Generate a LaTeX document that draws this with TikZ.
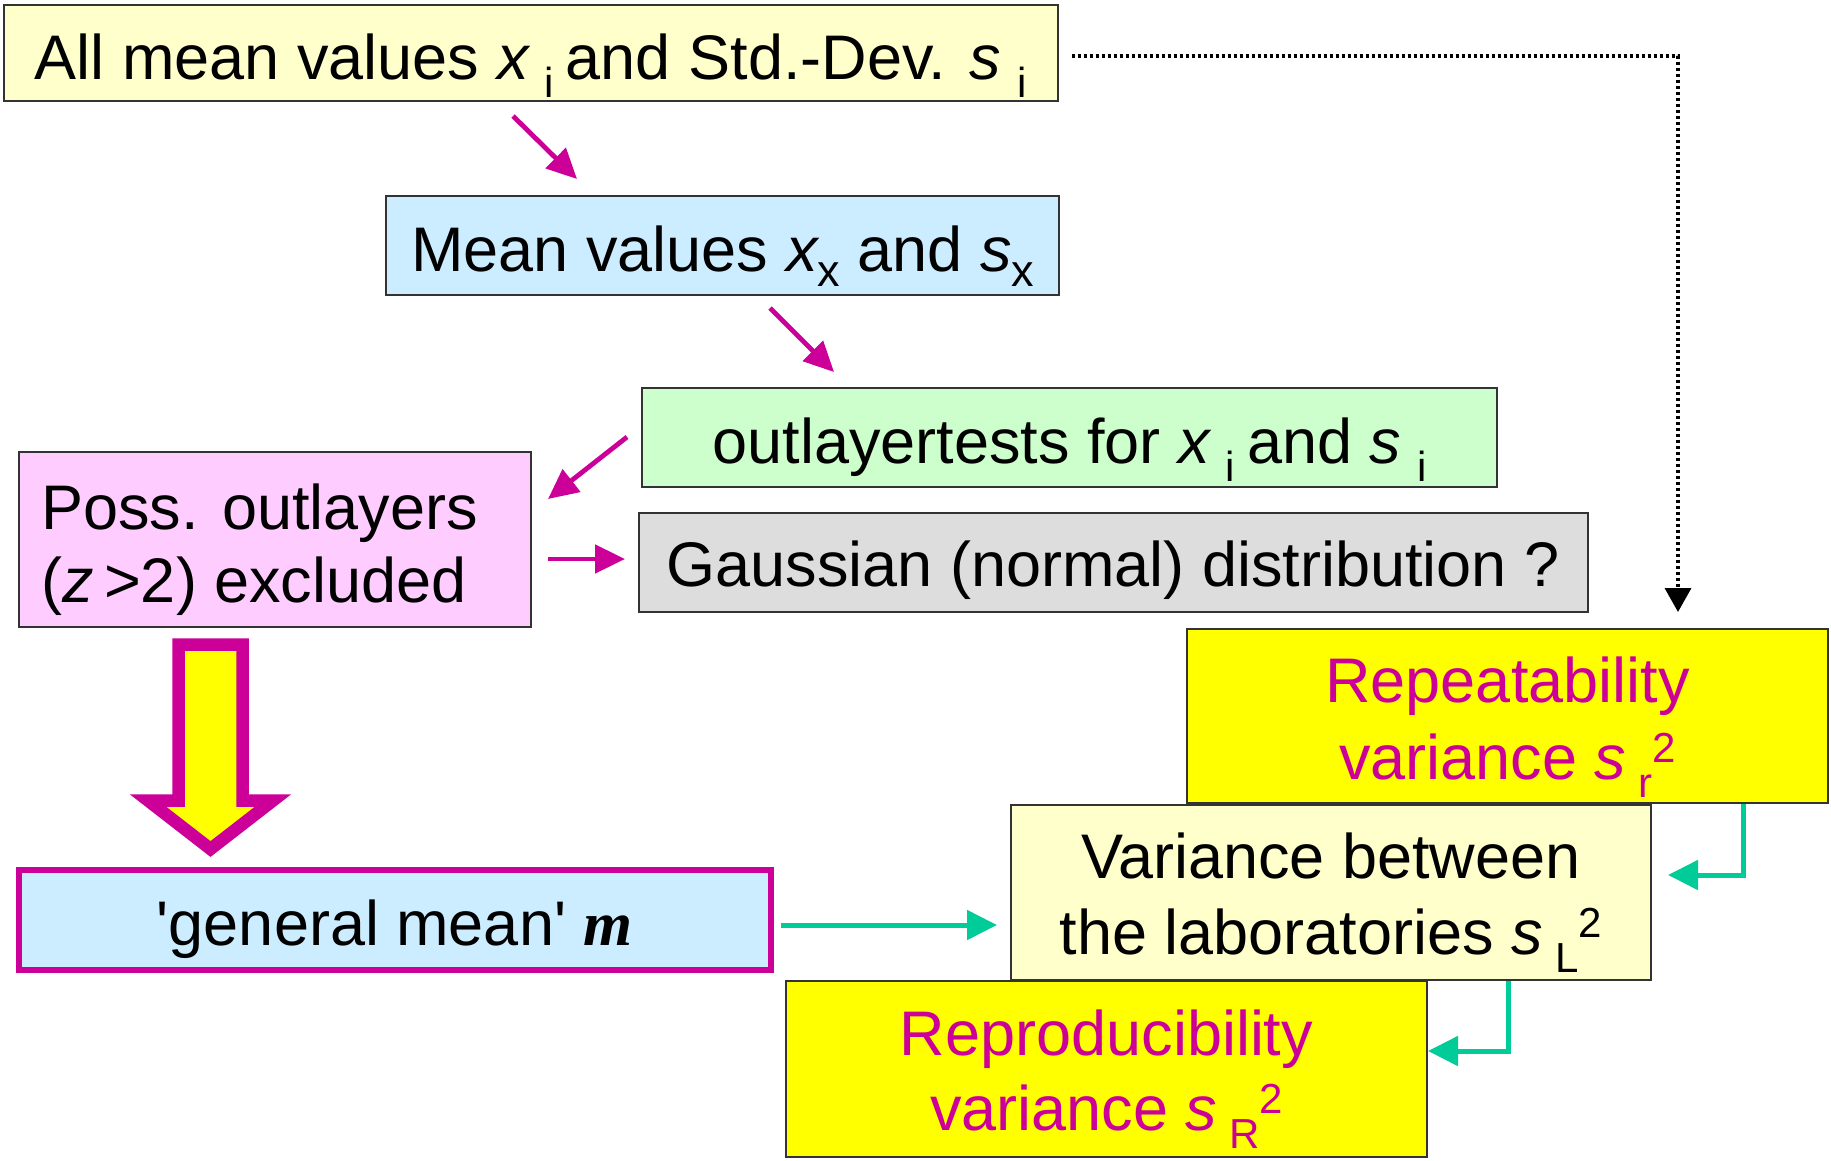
\documentclass[tikz,border=0pt]{standalone}
\usepackage{fontspec}
\setmainfont{Liberation Sans}[Ligatures=TeXOff]
\newfontfamily\serifm{Liberation Serif}
\usetikzlibrary{arrows.meta}
\definecolor{mag}{HTML}{CC0099}
\definecolor{tealc}{HTML}{00CC99}
\definecolor{lyel}{HTML}{FFFFCC}
\definecolor{lblue}{HTML}{CCECFF}
\definecolor{lgreen}{HTML}{CCFFCC}
\definecolor{lpink}{HTML}{FFCCFF}
\definecolor{lgray}{HTML}{DDDDDD}
\definecolor{yel}{HTML}{FFFF00}
\newcommand\bigf{\fontsize{63}{75}\selectfont}
\newcommand\sbs[1]{\raisebox{-18pt}{\fontsize{42}{42}\selectfont #1}}
\newcommand\sps[1]{\raisebox{17pt}{\fontsize{42}{42}\selectfont #1}}
\newcommand\sbx[1]{\raisebox{-15pt}{\fontsize{45}{45}\selectfont #1}}
\newcommand\bx{{\itshape x}}
\newcommand\is{{\itshape s}}
\tikzset{
  box/.style={draw=black!80, line width=2pt, inner sep=0pt, rectangle},
  txt/.style={inner sep=0pt, anchor=base, font=\bigf},
  txtl/.style={inner sep=0pt, anchor=base west, font=\bigf},
  magarrow/.style={draw=mag, line width=4.8pt, -{Triangle[length=30pt,width=28pt]}},
  tealarrow/.style={draw=tealc, line width=5pt, -{Triangle[length=30pt,width=29pt]}},
  dotarrow/.style={draw=black, line width=3.5pt, dash pattern=on 3.5pt off 2.5pt, -{Triangle[length=24pt,width=26pt]}},
}
\begin{document}
\begin{tikzpicture}[x=1pt,y=-1pt]
\useasboundingbox (0,0) rectangle (1831,1160);
\fill[white] (0,0) rectangle (1831,1160);

% boxes
\node[box, fill=lyel, minimum width=1054.5pt, minimum height=96.5pt] (b1) at (530.75,52.75) {};
\node[box, fill=lblue, minimum width=673pt, minimum height=99pt] (b2) at (722.75,245.5) {};
\node[box, fill=lgreen, minimum width=855pt, minimum height=98.7pt] (b3) at (1069.6,437.3) {};
\node[box, fill=lpink, minimum width=512.3pt, minimum height=175pt] (b4) at (274.9,539.5) {};
\node[box, fill=lgray, minimum width=948.5pt, minimum height=98.7pt] (b5) at (1113.25,562.35) {};
\node[box, fill=yel, minimum width=641pt, minimum height=174.2pt] (b6) at (1507.5,715.7) {};
\node[box, fill=lyel, minimum width=640.3pt, minimum height=175.5pt] (b7) at (1330.85,892.25) {};
\node[box, fill=yel, minimum width=641pt, minimum height=176pt] (b8) at (1106.5,1069) {};
\node[rectangle, draw=mag, line width=6pt, fill=lblue, inner sep=0pt, minimum width=751.6pt, minimum height=100.3pt] (b9) at (394.8,919.85) {};

% texts
\node[txt] (t1) at (530.75,79) {All mean values \bx\hspace{16pt}\sbs{i}\hspace{12pt}and Std.-Dev. \is\hspace{16pt}\sbs{i}};
\node[txt] (t2) at (722.75,271) {Mean values \bx\sbx{x} and \is\sbx{x}};
\node[txt] (t3) at (1069.6,463.3) {outlayertests for \bx\hspace{16pt}\sbs{i}\hspace{12pt}and \is\hspace{16pt}\sbs{i}};
\node[txtl] (t4a) at (41,529) {Poss. outlayers};
\node[txtl] (t4b) at (41,602) {(\textit{z}\,>2) excluded};
\node[txt] (t5) at (1113.25,586) {Gaussian (normal) distribution ?};
\node[txt, text=mag] (t6a) at (1507.5,702.8) {Repeatability};
\node[txt, text=mag] (t6b) at (1507.5,779.3) {variance \is\hspace{12pt}\sbs{r}\sps{2}};
\node[txt] (t7a) at (1330.85,878.6) {Variance between};
\node[txt] (t7b) at (1330.85,954.5) {the laboratories \is\hspace{12pt}\sbs{L}\sps{2}};
\node[txt, text=mag] (t8a) at (1106.5,1055) {Reproducibility};
\node[txt, text=mag] (t8b) at (1106.5,1130) {variance \is\hspace{12pt}\sbs{R}\sps{2}};
\node[txt] (t9) at (394.8,945) {'general mean' {\serifm\bfseries\itshape m}};

% magenta arrows
\coordinate (m1s) at (513,116);
\coordinate (m1e) at (577,179);
\coordinate (m2s) at (770,308);
\coordinate (m2e) at (834,372);
\coordinate (m3s) at (627,437);
\coordinate (m3e) at (548,499);
\coordinate (m4s) at (548,559);
\coordinate (m4e) at (625,559);
\draw[magarrow] (m1s) -- (m1e);
\draw[magarrow] (m2s) -- (m2e);
\draw[magarrow] (m3s) -- (m3e);
\draw[magarrow] (m4s) -- (m4e);

% big hollow arrow
\draw[draw=mag, fill=yel, line width=12.5pt, line join=miter]
  (178.5,644.5) -- (242.5,644.5) -- (242.5,800.5) -- (273,800.5) -- (210.5,849)
  -- (148,800.5) -- (178.5,800.5) -- cycle;

% teal arrows
\coordinate (g1s) at (781,925);
\coordinate (g1e) at (997,925);
\draw[tealarrow] (g1s) -- (g1e);
\coordinate (r1c) at (1743.6,875);
\coordinate (r1e) at (1668,875);
\draw[tealarrow] (b6.south -| r1c) -- (r1c) -- (r1e);
\coordinate (r2c) at (1508,1051);
\coordinate (r2e) at (1428,1051);
\draw[tealarrow] (b7.south -| r2c) -- (r2c) -- (r2e);

% dotted arrow
\coordinate (d1s) at (1071.5,56);
\coordinate (d1c) at (1678,56);
\coordinate (d1e) at (1678,612);
\draw[dotarrow] (d1s) -- (d1c) -- (d1e);
\end{tikzpicture}
\end{document}
